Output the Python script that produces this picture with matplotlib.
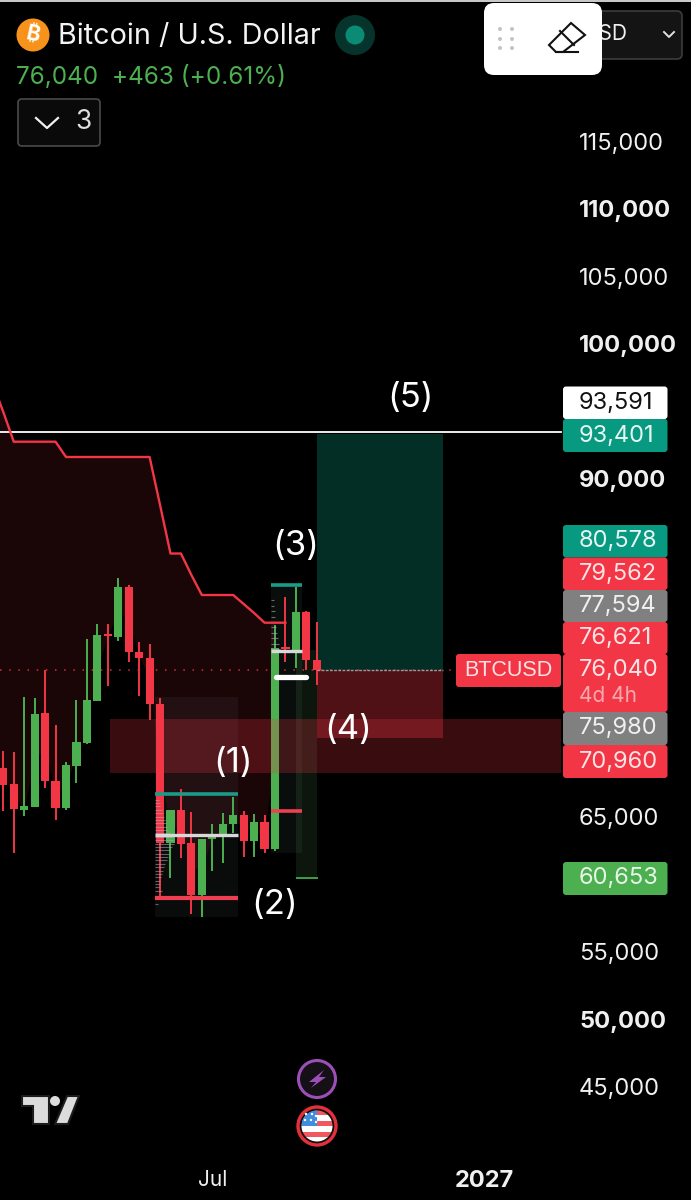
import matplotlib
matplotlib.use("Agg")
import matplotlib.pyplot as plt
import numpy as np
from matplotlib.patches import FancyBboxPatch, Circle, Polygon, Rectangle

plt.rcParams['font.family'] = ['Inter', 'Noto Sans', 'Roboto', 'Open Sans', 'Lato', 'DejaVu Sans']

# ---- data -----------------------------------------------------------------
opens = [68570, 67385, 65504, 65704, 72644, 67607, 65652, 68741, 70444, 73578, 78496, 78319, 82000, 77185, 76741, 73356,
         63015, 65459, 63015, 59185, 63311, 63504, 64422, 65111, 63207, 64615, 62570, 77533, 77333, 80126, 76593]
closes = [67333, 65533, 65756, 72615, 67630, 65652, 68793, 70519, 73607, 78444, 78348, 82000, 77163, 76719, 73333, 63059,
          65481, 62963, 59185, 63333, 63504, 64444, 65111, 63207, 64615, 62570, 77459, 77385, 80126, 76593, 75852]
highs = [69852, 69800, 73874, 73756, 75852, 71778, 69059, 73630, 78148, 79259, 79259, 82644, 82148, 77904, 77778, 73756,
         65481, 67037, 65311, 63333, 64444, 65281, 66467, 65407, 65185, 65111, 79185, 81281, 82022, 80222, 79385]
lows = [65430, 62319, 65037, 65681, 67111, 64741, 65481, 67504, 70348, 73556, 74689, 78000, 76467, 73948, 72148, 58963,
        60444, 61926, 57778, 57533, 60985, 61533, 63778, 61978, 61978, 62274, 62467, 76467, 75978, 75852, 74741]

trend_idx = list(range(-1, 28))
trend = [97037, 94963, 92763, 92763, 92763, 92763, 92763, 91630, 91630, 91630, 91630, 91630, 91630, 91630, 91630, 91630,
         88074, 84481, 84481, 82889, 81407, 81407, 81407, 81407, 80741, 80074, 79356, 79356, 79356]

price_ticks = [115000, 110000, 105000, 100000, 90000, 65000, 55000, 50000, 45000]
bold_ticks = [110000, 100000, 90000, 50000]
time_ticks = [20, 46]
time_labels = ['Jul', '2027']

last_price = 75880
target_price = 93300
stop_price = 70780
zone_top, zone_bottom = 72222, 68222
resistance = 93470

profile_prices = [66250, 66000, 65750, 65500, 65250, 65000, 64750, 64500, 64250, 64000, 63750, 63500, 63250, 63000, 62750,
                  62500, 62250, 62000, 61750, 61500, 61250, 61000, 60750, 60500, 60250, 60000, 59750, 59500, 59000, 58500]
profile_sizes = [0.4, 0.5, 0.5, 0.7, 0.8, 0.9, 1.0, 1.1, 1.2, 1.3, 1.5, 1.6, 1.7, 1.8, 1.6,
                 1.5, 1.4, 1.3, 1.2, 1.0, 0.9, 0.8, 0.7, 0.6, 0.5, 0.5, 0.4, 0.7, 0.3, 0.3]
profile2_prices = [81000, 80600, 80200, 79800, 79400, 79000, 78600, 78200, 77800, 77400]
profile2_sizes = [0.3, 0.3, 0.4, 0.4, 0.5, 0.5, 0.6, 0.7, 0.8, 0.9]

tags = [('93,591', 386.5, 419, '#ffffff', '#111111'), ('93,401', 419, 452, '#089981', '#e8f5f2'),
        ('80,578', 525, 557.5, '#089981', '#e8f5f2'), ('79,562', 557.5, 590, '#f23645', '#fbe3e5'),
        ('77,594', 590, 622, '#808080', '#f0f0f0'), ('76,621', 622, 654, '#f23645', '#fbe3e5'),
        ('76,040', 654, 712, '#f23645', '#fbe3e5'), ('75,980', 712, 745, '#808080', '#f0f0f0'),
        ('70,960', 745, 778, '#f23645', '#fbe3e5'), ('60,653', 862, 895, '#4caf50', '#e8f5e9')]

wave_text = ['(1)', '(2)', '(3)', '(4)', '(5)']
wave_x = [22.0, 26.0, 28.0, 33.0, 39.0]
wave_y = [69000, 58450, 85000, 71400, 96000]

UP, DOWN = '#4caf50', '#f23645'
TEAL = '#089981'

# ---- figure ---------------------------------------------------------------
fig = plt.figure(figsize=(6.91, 12.0), dpi=100, facecolor='black')
ax = fig.add_axes([0, 0, 1, 1], facecolor='black')
ax.set_xlim(-0.316, 65.81)
ax.set_ylim(36593, 125481)
for s in ax.spines.values():
    s.set_visible(False)

idx = np.arange(len(opens))
o, c, h, l = map(np.array, (opens, closes, highs, lows))
cols = [UP if b >= a else DOWN for a, b in zip(opens, closes)]
mid = (o + c) / 2

# supertrend and its fill to candle midpoints
tx = np.array(trend_idx)
ty = np.array(trend)
mid_interp = np.interp(tx, idx, mid)
ax.fill_between(tx[:-1], ty[:-1], mid_interp[:-1], color=DOWN, alpha=0.11, lw=0, zorder=1)
ax.plot(tx, ty, color=DOWN, lw=1.7, zorder=5, solid_joinstyle='round')

# fib boxes
ax.add_patch(Rectangle((14.5, 57550), 8.0, 73850 - 57550, fc='#8a9aa0', alpha=0.08, lw=0, zorder=1.5))
ax.add_patch(Rectangle((25.6, 62300), 3.0, 82148 - 62300, fc='#5f8f7f', alpha=0.10, lw=0, zorder=1.5))
ax.add_patch(Rectangle((28.0, 60444), 2.0, 77300 - 60444, fc='#5fa060', alpha=0.14, lw=0, zorder=1.5))

# volume profile
ax.hlines(profile_prices, 14.5, 14.5 + np.array(profile_sizes), color='#b0a8b0', alpha=0.55, lw=0.8, zorder=3.3)
ax.hlines(profile2_prices, 25.6, 25.6 + np.array(profile2_sizes), color='#b0a8b0', alpha=0.6, lw=0.8, zorder=3.3)

# candles
ax.vlines(idx, l, h, colors=cols, lw=1.4, zorder=3)
ax.bar(idx, np.abs(c - o), bottom=np.minimum(o, c), width=0.78, color=cols, lw=0, zorder=3.2)

# last price line
ax.axhline(last_price, xmin=0, xmax=0.659, color=DOWN, lw=1.1, ls=(0, (1, 5)), alpha=0.85, zorder=2.5)

# position tool + zone
ax.add_patch(Rectangle((29.98, last_price), 12.1, target_price - last_price, fc=TEAL, alpha=0.30, lw=0, zorder=2.2))
ax.add_patch(Rectangle((29.98, stop_price), 12.1, last_price - stop_price, fc=DOWN, alpha=0.33, lw=0, zorder=3.4))
ax.plot([29.98, 42.08], [last_price] * 2, color='#9a9a9a', lw=1, ls=(0, (2, 1)), zorder=3.5)
ax.add_patch(Rectangle((10.2, zone_bottom), 43.2, zone_top - zone_bottom, fc=DOWN, alpha=0.24, lw=0, zorder=3.3))
ax.plot([-0.316, 53.4], [resistance] * 2, color='white', lw=1.3, zorder=4)

# fib levels
ax.hlines(66667, 14.5, 22.5, color='#1b9c88', lw=2.6, zorder=4)
ax.hlines(63630, 14.5, 22.5, color='#d8d8d8', lw=2.4, zorder=4)
ax.hlines(58963, 14.5, 22.5, color='#ee4050', lw=3.0, zorder=4)
ax.hlines(82148, 25.6, 28.6, color='#1b9c88', lw=2.6, zorder=4)
ax.hlines(77259, 25.6, 28.6, color='#d8d8d8', lw=2.4, zorder=4)
ax.hlines(65407, 25.6, 28.6, color='#ee4050', lw=2.6, zorder=4)
ax.hlines(60444, 28.0, 30.1, color='#3f9f48', lw=1.4, zorder=4)
ax.plot([26.1, 29.0], [75333, 75333], color='white', lw=3.8, solid_capstyle='round', zorder=6)

# wave counts
for txt, xi, yp in zip(wave_text, wave_x, wave_y):
    ax.text(xi, yp, txt, color='white', fontsize=25, ha='center', va='center', zorder=7)

# axes labels
ax.yaxis.tick_right()
ax.set_yticks(price_ticks)
ax.set_yticklabels([f'{v:,}' for v in price_ticks])
ax.tick_params(axis='y', length=0, pad=-80.6, colors='#f0f0f0', labelsize=17)
for lab, v in zip(ax.get_yticklabels(), price_ticks):
    lab.set_horizontalalignment('left')
    if v in bold_ticks:
        lab.set_fontweight('bold')
ax.set_xticks(time_ticks)
ax.set_xticklabels(time_labels)
ax.tick_params(axis='x', length=0, pad=-21.5, colors='#f0f0f0', labelsize=15)
ax.get_xticklabels()[1].set_fontweight('bold')
ax.get_xticklabels()[1].set_fontsize(17)

# ---- overlay in pixels ----------------------------------------------------
ov = fig.add_axes([0, 0, 1, 1], facecolor='none')
ov.set_xlim(0, 691)
ov.set_ylim(1200, 0)
ov.axis('off')


def rbox(x0, y0, x1, y1, fc, ec='none', r=3, lw=0, z=10):
    ov.add_patch(FancyBboxPatch((x0 + r, y0 + r), x1 - x0 - 2 * r, y1 - y0 - 2 * r,
                                boxstyle=f'round,pad={r},rounding_size={r}', fc=fc, ec=ec, lw=lw, zorder=z))


# top hairline
ov.add_patch(Rectangle((0, 0), 691, 2, fc='#c8c8c8', lw=0, zorder=9))

# price tags
for txt, y0, y1, fc, tc in tags:
    rbox(563, y0, 667.5, y1, fc)
    yc = y0 + 15.5 if txt == '76,040' else (y0 + y1) / 2
    ov.text(579, yc, txt, color=tc, fontsize=17, va='center', ha='left', zorder=11)
ov.text(579, 696, '4d 4h', color='#f5a8ae', fontsize=15, va='center', ha='left', zorder=11)
rbox(456, 654, 561, 687, DOWN)
ov.text(508.5, 670.5, 'BTCUSD', color='#fbe3e5', fontsize=15.5, va='center', ha='center',
        family=['Liberation Sans', 'DejaVu Sans'], zorder=11)

# header
ov.add_patch(Circle((33, 35), 16.5, fc='#f7931a', lw=0, zorder=10))
ov.text(33, 35, '₿', color='white', fontsize=15, fontweight='bold', ha='center', va='center', rotation=-12,
        family=['Inter', 'Noto Sans', 'Roboto', 'Open Sans', 'Lato', 'Liberation Sans'], zorder=11)
ov.text(58, 36.5, 'Bitcoin / U.S. Dollar', color='#f4f4f4', fontsize=20.7, va='center', ha='left', zorder=11)
ov.add_patch(Circle((355, 35), 20, fc='#07332d', lw=0, zorder=10))
ov.add_patch(Circle((355, 35), 9.5, fc='#0b8a76', lw=0, zorder=11))
ov.text(16, 76.5, '76,040  +463 (+0.61%)', color=UP, fontsize=17.5, va='center', ha='left', zorder=11)
rbox(18, 99, 100, 146, '#0a0a0a', ec='#4a4a4a', r=4, lw=1.2)
ov.plot([36, 47, 58], [118, 128, 118], color='#f0f0f0', lw=1.6, zorder=11)
ov.text(84, 122, '3', color='#e0e0e0', fontsize=19, ha='center', va='center', zorder=11)

# currency button, white panel
rbox(560, 11, 682, 59, '#141414', ec='#3c3c3c', r=5, lw=1.2)
ov.text(583, 34, 'USD', color='#f0f0f0', fontsize=15, ha='left', va='center', zorder=11)
ov.plot([664, 669, 674], [32, 37, 32], color='#e0e0e0', lw=1.4, zorder=11)
rbox(484, 3, 602, 75, 'white', r=10, z=12)
for dx in (500, 512):
    for dy in (29, 39, 48):
        ov.add_patch(Circle((dx, dy), 2, fc='#c4c4c4', lw=0, zorder=13))
ov.add_patch(Polygon([[549, 45], [571, 23], [585, 35], [563, 52], [556, 52]], closed=True, fc='white', ec='#111111',
                     lw=1.5, zorder=13))
ov.plot([560, 574], [31, 45], color='#111111', lw=1.5, zorder=14)
ov.plot([556, 578], [52, 52], color='#111111', lw=1.5, zorder=14)

# TradingView logo
ov.add_patch(Polygon([[22, 1096], [49, 1096], [49, 1124], [33, 1124], [33, 1106], [22, 1106]], closed=True,
                     fc='#dcdcdc', ec='#1c1c1c', lw=1.5, zorder=10))
ov.add_patch(Circle((55, 1101), 5, fc='#dcdcdc', lw=0, zorder=10))
ov.add_patch(Polygon([[67, 1096], [79, 1096], [68, 1124], [55, 1124]], closed=True, fc='#dcdcdc', ec='#1c1c1c',
                     lw=1.5, zorder=10))

# event badges
ov.add_patch(Circle((317, 1079), 18.5, fc='#141016', ec='#9c4fb8', lw=2.2, zorder=10))
ov.add_patch(Polygon([[324, 1070], [309, 1082], [316, 1082], [311, 1088], [326, 1077], [319, 1077]], closed=True,
                     fc='#9c4fb8', lw=0, zorder=11))
ov.add_patch(Circle((317, 1126), 19, fc='#111111', ec='#e5303c', lw=2.4, zorder=10))
clip = Circle((317, 1126), 15.5, transform=ov.transData)
stripes = [Rectangle((300, 1110 + k * 5.4), 34, 5.4, fc=('#f0575f' if k % 2 == 0 else 'white'), lw=0, zorder=11)
           for k in range(6)]
for s in stripes:
    ov.add_patch(s)
    s.set_clip_path(clip)
canton = Rectangle((300, 1110), 17, 16, fc='#3d8de0', lw=0, zorder=12)
ov.add_patch(canton)
canton.set_clip_path(clip)
for sx, sy in [(306, 1114), (312, 1114), (305, 1120), (311, 1120), (316, 1116), (316, 1122)]:
    ov.add_patch(Circle((sx, sy), 1.2, fc='white', lw=0, zorder=13))

fig.savefig('out.png', dpi=100, facecolor='black')
